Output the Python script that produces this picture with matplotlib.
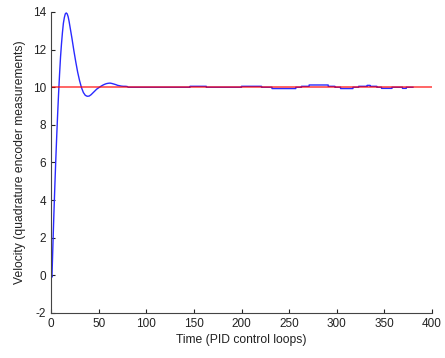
import matplotlib
matplotlib.use("Agg")
import matplotlib.pyplot as plt

# Step response (initial transient)
t_transient = [0, 1, 2, 3, 4, 5, 6, 7, 8, 9, 10, 11, 12, 13, 14, 15, 16, 17, 18, 19, 20,
               22, 24, 26, 28, 30, 32, 34, 36, 38, 40, 42, 44, 46, 48, 50, 52, 54, 56,
               58, 60, 62, 64, 66, 68, 70, 72, 74, 76, 78, 80, 81]
v_transient = [0.0, -0.1, 1.6, 3.2, 4.7, 6.1, 7.4, 8.6, 9.7, 10.7, 11.6, 12.3, 12.9, 13.4,
               13.7, 13.9, 13.95, 13.9, 13.75, 13.5, 13.2, 12.6, 11.95, 11.35, 10.8, 10.35,
               9.98, 9.72, 9.57, 9.52, 9.53, 9.6, 9.7, 9.8, 9.9, 9.97, 10.04, 10.1, 10.15,
               10.19, 10.21, 10.22, 10.2, 10.17, 10.14, 10.1, 10.08, 10.06, 10.05, 10.05, 10.04, 10.0]

# Later quantized disturbances around the setpoint
t_later = [81, 146, 146, 163, 163, 200, 200, 221, 221, 232, 232, 257, 257, 263, 263, 271,
           271, 291, 291, 298, 298, 304, 304, 317, 317, 323, 323, 332, 332, 335, 335, 342,
           342, 347, 347, 358, 358, 369, 369, 373, 373, 380]
v_later = [10.0, 10.0, 10.05, 10.05, 10.0, 10.0, 10.05, 10.05, 10.0, 10.0, 9.93, 9.93,
           10.0, 10.0, 10.05, 10.05, 10.12, 10.12, 10.05, 10.05, 10.0, 10.0, 9.93, 9.93,
           10.0, 10.0, 10.05, 10.05, 10.1, 10.1, 10.05, 10.05, 10.0, 10.0, 9.94, 9.94,
           10.0, 10.0, 9.94, 9.94, 10.0, 10.0]

setpoint_t = [0, 400]
setpoint_v = [10, 10]

x_ticks = [0, 50, 100, 150, 200, 250, 300, 350, 400]
y_ticks = [-2, 0, 2, 4, 6, 8, 10, 12, 14]

plt.rcParams['font.family'] = ['Liberation Sans', 'DejaVu Sans']
plt.rcParams['axes.unicode_minus'] = False

fig = plt.figure(figsize=(4.45, 3.58), dpi=100)
ax = fig.add_axes([0.1146, 0.1257, 0.8562, 0.8408])

ax.plot(t_transient + t_later[1:], v_transient + v_later[1:], color='#2a2aff', lw=1.0)
ax.plot(setpoint_t, setpoint_v, color='#ff0000', lw=1.3, alpha=0.65)

ax.set_xlim(0, 400)
ax.set_ylim(-2, 14)
ax.set_xticks(x_ticks)
ax.set_yticks(y_ticks)
ax.spines['top'].set_visible(False)
ax.spines['right'].set_visible(False)
for s in ['left', 'bottom']:
    ax.spines[s].set_color('#444444')
    ax.spines[s].set_linewidth(0.8)
ax.tick_params(direction='in', length=3, labelsize=8.5, colors='#222222', width=0.8)
ax.set_xlabel('Time (PID control loops)', fontsize=8.7, color='#222222', labelpad=3)
ax.set_ylabel('Velocity (quadrature encoder measurements)', fontsize=8.7, color='#222222',
              labelpad=5)

fig.savefig('out.png', dpi=100)
